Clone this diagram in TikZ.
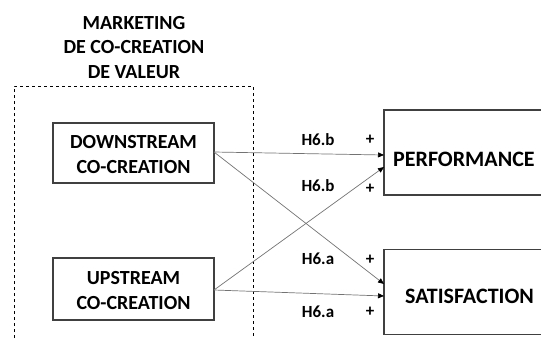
\documentclass[tikz,border=0pt]{standalone}
\usepackage{fontspec}
\setmainfont{Carlito}
\usetikzlibrary{arrows.meta}
\begin{document}
\begin{tikzpicture}[x=1pt,y=-1pt,
  box/.style={draw=black!75,line width=1.2pt,inner sep=0pt},
  boxtext/.style={font=\bfseries\fontsize{20}{25}\selectfont,align=center,inner sep=0pt},
  bigtext/.style={font=\bfseries\fontsize{22}{24}\selectfont,anchor=west,inner sep=0pt},
  lbl/.style={font=\bfseries\fontsize{17}{18}\selectfont,inner sep=0pt},
  conn/.style={draw=black!55,line width=0.7pt,-{Triangle[length=6pt,width=5pt,fill=black,color=black]}}]
\useasboundingbox (0,0) rectangle (541,338);
\clip (0,0) rectangle (541,338);
\node[boxtext,font=\bfseries\fontsize{20}{24.5}\selectfont] (title) at (134,47.5) {MARKETING\\DE CO-CREATION\\DE VALEUR};
\draw[dashed,line width=0.8pt] (14,350) |- (253,86) -- (253,350);
\node[box,minimum width=161pt,minimum height=60pt] (down) at (133.5,153) {};
\node[boxtext] (downt) at (133.5,154.5) {DOWNSTREAM\\CO-CREATION};
\node[box,minimum width=161pt,minimum height=62pt] (up) at (133.5,289) {};
\node[boxtext] (upt) at (133.5,290.5) {UPSTREAM\\CO-CREATION};
\node[box,minimum width=190pt,minimum height=85pt] (perf) at (479,152.5) {};
\node[box,minimum width=190pt,minimum height=85pt] (sat) at (479,292) {};
\node[bigtext] (perft) at (393,159) {PERFORMANCE};
\node[bigtext] (satt) at (405,296) {SATISFACTION};
\coordinate (d1) at (214,152);
\coordinate (u1) at (214,290);
\coordinate (p1) at (384,155);
\coordinate (p2) at (384,167);
\coordinate (s1) at (384,284);
\coordinate (s2) at (384,296);
\draw[conn] (d1) -- (p1);
\draw[conn] (d1) -- (s1);
\draw[conn] (u1) -- (p2);
\draw[conn] (u1) -- (s2);
\node[lbl] (l1) at (318,140) {H6.b};
\node[lbl] (l2) at (318,186) {H6.b};
\node[lbl] (l3) at (318,259) {H6.a};
\node[lbl] (l4) at (318,312) {H6.a};
\node[lbl] (p1p) at (370,140) {+};
\node[lbl] (p2p) at (370,189) {+};
\node[lbl] (p3p) at (370,260) {+};
\node[lbl] (p4p) at (370,312) {+};
\end{tikzpicture}
\end{document}
